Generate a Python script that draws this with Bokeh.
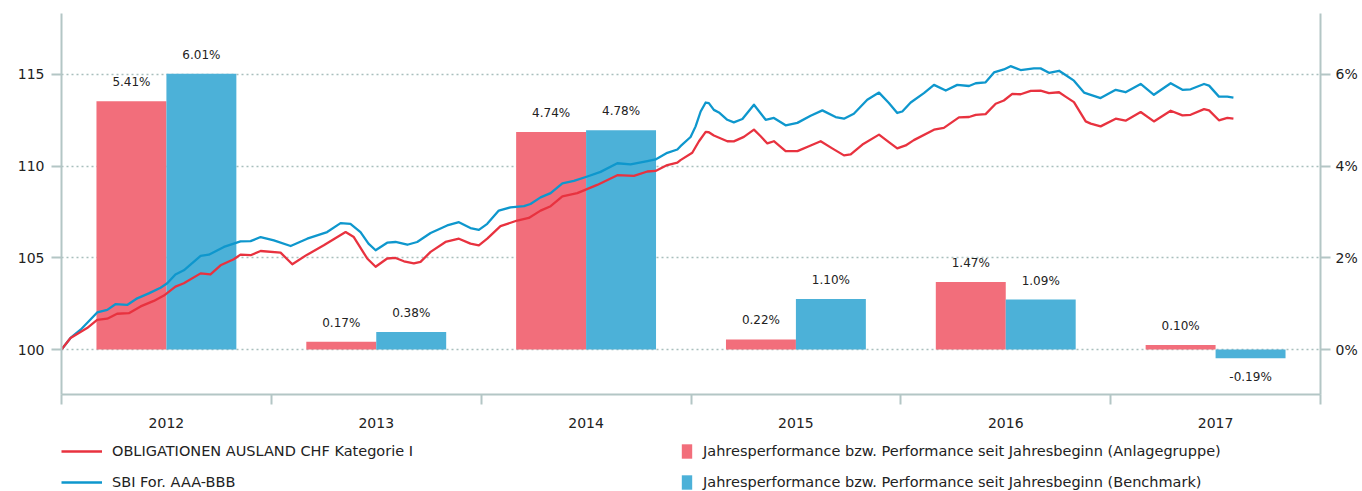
from bokeh.plotting import figure
from bokeh.layouts import column
from bokeh.models import (Range1d, LinearAxis, FixedTicker, ColumnDataSource, Legend,
                          LegendItem, CustomJSTickFormatter, PrintfTickFormatter)
from bokeh.core.properties import value
from bokeh.embed import file_html
from bokeh.resources import INLINE

# ---------------- data ----------------
years = [2012, 2013, 2014, 2015, 2016, 2017]
perf_fund = [5.41, 0.17, 4.74, 0.22, 1.47, 0.10]      # Anlagegruppe, %
perf_bench = [6.01, 0.38, 4.78, 1.10, 1.09, -0.19]    # Benchmark, %

fund_name = "OBLIGATIONEN AUSLAND CHF Kategorie I"
bench_name = "SBI For. AAA-BBB"
bar_fund_name = "Jahresperformance bzw. Performance seit Jahresbeginn (Anlagegruppe)"
bar_bench_name = "Jahresperformance bzw. Performance seit Jahresbeginn (Benchmark)"

t_bench = [2012.000, 2012.043, 2012.091, 2012.130, 2012.170, 2012.218, 2012.257, 2012.313,
           2012.361, 2012.416, 2012.472, 2012.504, 2012.543, 2012.583, 2012.663, 2012.702,
           2012.774, 2012.853, 2012.901, 2012.949, 2013.012, 2013.092, 2013.171, 2013.266,
           2013.330, 2013.377, 2013.425, 2013.463, 2013.497, 2013.552, 2013.592, 2013.648,
           2013.695, 2013.759, 2013.838, 2013.894, 2013.949, 2013.989, 2014.029, 2014.084,
           2014.140, 2014.204, 2014.235, 2014.283, 2014.331, 2014.387, 2014.442, 2014.506,
           2014.569, 2014.649, 2014.712, 2014.792, 2014.831, 2014.887, 2014.935, 2014.950,
           2014.998, 2015.022, 2015.046, 2015.070, 2015.085, 2015.109, 2015.133, 2015.173,
           2015.204, 2015.245, 2015.300, 2015.356, 2015.395, 2015.451, 2015.507, 2015.570,
           2015.626, 2015.689, 2015.729, 2015.776, 2015.840, 2015.896, 2015.943, 2015.983,
           2016.007, 2016.047, 2016.110, 2016.158, 2016.214, 2016.269, 2016.325, 2016.357,
           2016.404, 2016.444, 2016.491, 2016.523, 2016.571, 2016.634, 2016.666, 2016.706,
           2016.754, 2016.785, 2016.825, 2016.873, 2016.905, 2016.952, 2017.024, 2017.071,
           2017.143, 2017.206, 2017.286, 2017.342, 2017.381, 2017.445, 2017.469, 2017.516,
           2017.556, 2017.585]
v_bench = [100.00, 100.63, 101.08, 101.54, 102.02, 102.16, 102.47, 102.43,
           102.79, 103.06, 103.37, 103.61, 104.09, 104.32, 105.10, 105.17,
           105.59, 105.89, 105.91, 106.13, 105.95, 105.64, 106.04, 106.40,
           106.89, 106.85, 106.40, 105.77, 105.41, 105.82, 105.86, 105.71,
           105.86, 106.35, 106.76, 106.94, 106.62, 106.52, 106.85, 107.57,
           107.75, 107.81, 107.93, 108.29, 108.52, 109.06, 109.19, 109.43,
           109.68, 110.15, 110.09, 110.27, 110.36, 110.72, 110.90, 111.08,
           111.58, 112.16, 112.97, 113.46, 113.43, 113.06, 112.92, 112.52,
           112.38, 112.56, 113.34, 112.52, 112.62, 112.22, 112.35, 112.74,
           113.03, 112.67, 112.58, 112.85, 113.61, 114.00, 113.43, 112.89,
           112.97, 113.46, 113.97, 114.42, 114.11, 114.42, 114.36, 114.51,
           114.56, 115.10, 115.26, 115.44, 115.23, 115.32, 115.32, 115.08,
           115.19, 114.96, 114.65, 114.00, 113.88, 113.70, 114.15, 114.02,
           114.47, 113.88, 114.51, 114.15, 114.18, 114.47, 114.38, 113.78,
           113.78, 113.73]

t_fund = [2012.000, 2012.043, 2012.122, 2012.170, 2012.218, 2012.265, 2012.321, 2012.377,
          2012.440, 2012.488, 2012.543, 2012.583, 2012.663, 2012.710, 2012.758, 2012.821,
          2012.853, 2012.901, 2012.949, 2013.044, 2013.100, 2013.171, 2013.250, 2013.354,
          2013.393, 2013.457, 2013.497, 2013.552, 2013.592, 2013.632, 2013.679, 2013.711,
          2013.759, 2013.830, 2013.894, 2013.949, 2013.989, 2014.029, 2014.092, 2014.172,
          2014.227, 2014.283, 2014.331, 2014.387, 2014.458, 2014.553, 2014.649, 2014.728,
          2014.792, 2014.831, 2014.887, 2014.935, 2014.950, 2015.006, 2015.038, 2015.070,
          2015.085, 2015.109, 2015.173, 2015.204, 2015.252, 2015.300, 2015.332, 2015.364,
          2015.395, 2015.451, 2015.507, 2015.562, 2015.618, 2015.673, 2015.729, 2015.761,
          2015.817, 2015.896, 2015.943, 2015.983, 2016.023, 2016.062, 2016.158, 2016.205,
          2016.277, 2016.325, 2016.357, 2016.404, 2016.452, 2016.491, 2016.531, 2016.571,
          2016.619, 2016.666, 2016.706, 2016.754, 2016.785, 2016.825, 2016.881, 2016.905,
          2016.952, 2017.024, 2017.071, 2017.143, 2017.206, 2017.286, 2017.342, 2017.381,
          2017.445, 2017.469, 2017.516, 2017.556, 2017.585]
v_fund = [100.00, 100.63, 101.17, 101.62, 101.68, 101.95, 101.98, 102.35,
          102.65, 102.94, 103.43, 103.61, 104.15, 104.09, 104.59, 104.92,
          105.17, 105.14, 105.37, 105.28, 104.65, 105.17, 105.68, 106.40,
          106.13, 104.96, 104.51, 104.96, 104.99, 104.81, 104.69, 104.78,
          105.32, 105.86, 106.04, 105.77, 105.68, 106.04, 106.72, 107.03,
          107.17, 107.57, 107.81, 108.35, 108.52, 108.97, 109.50, 109.46,
          109.70, 109.73, 110.05, 110.18, 110.32, 110.72, 111.35, 111.86,
          111.84, 111.66, 111.35, 111.34, 111.59, 111.98, 111.62, 111.23,
          111.35, 110.81, 110.81, 111.08, 111.35, 110.96, 110.58, 110.63,
          111.17, 111.71, 111.30, 110.96, 111.12, 111.41, 111.98, 112.08,
          112.65, 112.67, 112.79, 112.83, 113.39, 113.57, 113.93, 113.91,
          114.09, 114.11, 113.97, 114.02, 113.78, 113.48, 112.43, 112.31,
          112.16, 112.58, 112.47, 112.94, 112.43, 113.01, 112.76, 112.79,
          113.10, 113.03, 112.49, 112.62, 112.58]

# ---------------- styling ----------------
FONT = "DejaVu Sans"
AX = "#b3c6c5"
TXT = "#222222"
C_BAR_F = "#f26e7b"
C_BAR_B = "#4cb1d8"
C_LINE_F = "#e8323f"
C_LINE_B = "#0e97cd"

W = 1362
H_MAIN, H_LEG = 430, 61
BL, BR = 61, 42
p = figure(width=W, height=H_MAIN, output_backend="svg", toolbar_location=None,
           x_range=Range1d(2012.0, 2018.0), y_range=Range1d(97.55, 118.31),
           min_border_left=BL, min_border_right=BR, min_border_top=13, min_border_bottom=33,
           x_axis_location=None, y_axis_location=None)
p.outline_line_color = None
p.background_fill_color = "white"
p.border_fill_color = "white"
p.extra_y_ranges = {"pct": Range1d((97.55 - 100) / 2.5, (118.31 - 100) / 2.5)}

# axes
yl = LinearAxis(ticker=FixedTicker(ticks=[100, 105, 110, 115]))
yr = LinearAxis(y_range_name="pct", ticker=FixedTicker(ticks=[0, 2, 4, 6]),
                formatter=PrintfTickFormatter(format="%d%%"))
xb = LinearAxis(ticker=FixedTicker(ticks=[y + 0.5 for y in years],
                                   minor_ticks=years + [years[-1] + 1]),
                formatter=CustomJSTickFormatter(code="return Math.floor(tick).toString()"))
for ax in (yl, yr, xb):
    ax.axis_line_color = AX
    ax.axis_line_width = 2
    ax.major_tick_line_color = AX
    ax.major_tick_line_width = 2
    ax.major_tick_in = 0
    ax.major_tick_out = 10
    ax.minor_tick_line_color = None
    ax.major_label_text_font = FONT
    ax.major_label_text_font_size = "14px"
    ax.major_label_text_color = TXT
yl.major_label_standoff = 7
yr.major_label_standoff = 5
xb.major_tick_line_color = None
xb.major_tick_out = 0
xb.major_label_standoff = 13
xb.minor_tick_line_color = AX
xb.minor_tick_line_width = 2
xb.minor_tick_in = 0
xb.minor_tick_out = 10
p.add_layout(yl, "left")
p.add_layout(yr, "right")
p.add_layout(xb, "below")

p.xgrid.visible = False
p.ygrid.ticker = yl.ticker
p.ygrid.grid_line_color = "#a8bfbd"
p.ygrid.grid_line_dash = "2 3"
p.ygrid.grid_line_width = 1.5

# bars
w = 1 / 3
src_f = ColumnDataSource(dict(x=[y + 0.5 - w / 2 for y in years], top=perf_fund,
                              lab=[f"{v:.2f}%" for v in perf_fund],
                              off=[-19 if v >= 0 else 19 for v in perf_fund]))
src_b = ColumnDataSource(dict(x=[y + 0.5 + w / 2 for y in years], top=perf_bench,
                              lab=[f"{v:.2f}%" for v in perf_bench],
                              off=[-19 if v >= 0 else 19 for v in perf_bench]))
bar_f = dict(fill_color=C_BAR_F, line_color=None)
bar_b = dict(fill_color=C_BAR_B, line_color=None)
rbf = p.vbar(x="x", top="top", bottom=0, width=w, source=src_f, y_range_name="pct", **bar_f)
rbb = p.vbar(x="x", top="top", bottom=0, width=w, source=src_b, y_range_name="pct", **bar_b)

# lines
line_f = dict(line_color=C_LINE_F, line_width=2.3, line_join="round")
line_b = dict(line_color=C_LINE_B, line_width=2.3, line_join="round")
rlb = p.line(t_bench, v_bench, **line_b)
rlf = p.line(t_fund, v_fund, **line_f)

# bar labels
for s in (src_f, src_b):
    p.text(x="x", y="top", text="lab", y_offset="off", source=s, y_range_name="pct",
           text_align="center", text_baseline="middle", text_font=value(FONT),
           text_font_size="12px", text_color=TXT)

# ---------------- legend strip ----------------
q = figure(width=W, height=H_LEG, output_backend="svg", toolbar_location=None,
           x_range=Range1d(0, 1), y_range=Range1d(0, 1),
           min_border_left=BL, min_border_right=BR, min_border_top=0,
           min_border_bottom=0, x_axis_location=None, y_axis_location=None)
q.outline_line_color = None
q.grid.visible = False
q.background_fill_color = "white"
q.border_fill_color = "white"
# legend-swatch renderers: same styles as the chart, their single point lies off-range
lf = q.line(x=[-5, -4], y=[-5, -5], **line_f)
lb = q.line(x=[-5, -4], y=[-5, -5], **line_b)
bf = q.vbar(x=[-5], top=[-5], width=0.1, **bar_f)
bb = q.vbar(x=[-5], top=[-5], width=0.1, **bar_b)

common = dict(border_line_color=None, background_fill_alpha=0, padding=0, margin=0,
              spacing=13, glyph_height=18, label_height=18, label_standoff=10,
              label_text_font=FONT, label_text_font_size="14.5px", label_text_color=TXT)
leg1 = Legend(items=[LegendItem(label=fund_name, renderers=[lf]),
                     LegendItem(label=bench_name, renderers=[lb])],
              location=(0, 0), glyph_width=41, **common)
leg2 = Legend(items=[LegendItem(label=bar_fund_name, renderers=[bf]),
                     LegendItem(label=bar_bench_name, renderers=[bb])],
              location=(680 - BL, 0), glyph_width=13, **common)
q.add_layout(leg1)
q.add_layout(leg2)

layout = column(p, q, spacing=0)
open("out.html", "w").write(file_html(layout, INLINE))
